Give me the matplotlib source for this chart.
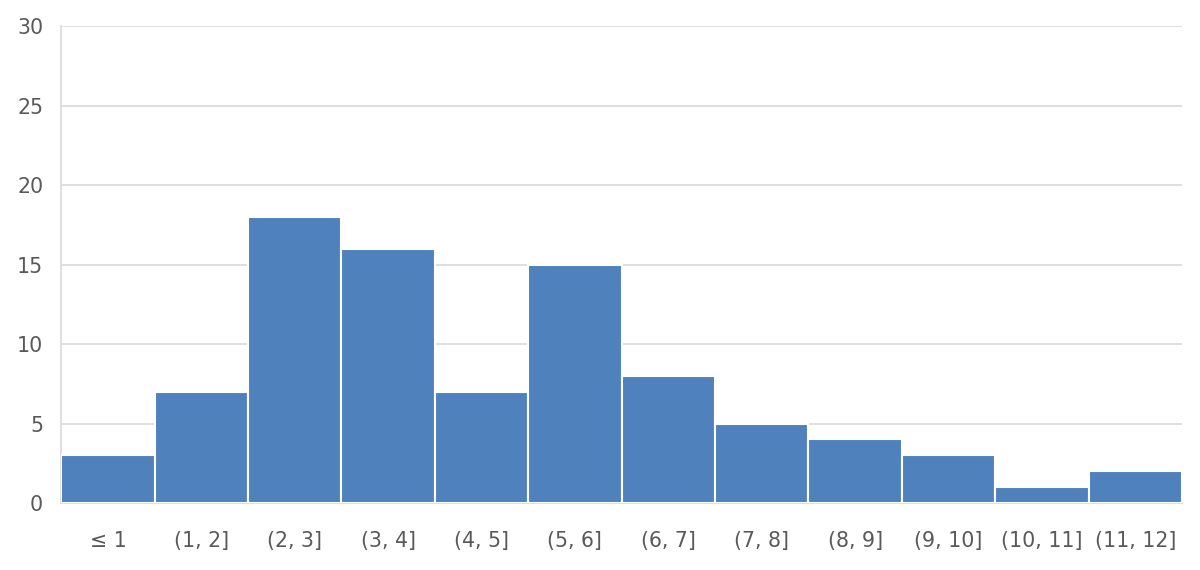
import matplotlib
matplotlib.use("Agg")
import matplotlib.pyplot as plt
import numpy as np

categories = ["≤ 1", "(1, 2]", "(2, 3]", "(3, 4]", "(4, 5]", "(5, 6]",
              "(6, 7]", "(7, 8]", "(8, 9]", "(9, 10]", "(10, 11]", "(11, 12]"]
counts = [3, 7, 18, 16, 7, 15, 8, 5, 4, 3, 1, 2]
yticks = [0, 5, 10, 15, 20, 25, 30]

plt.rcParams['font.family'] = ['DejaVu Sans']
fig = plt.figure(figsize=(12, 5.7), dpi=100)
ax = fig.add_axes([0.051, 0.1175, 0.934, 0.8365])

x = np.arange(len(categories))
ax.bar(x, counts, width=1.0, color="#4F81BD", edgecolor="white", linewidth=1.5, zorder=3)

ax.set_xlim(-0.5, len(categories) - 0.5)
ax.set_ylim(0, 30)
ax.set_yticks(yticks)
ax.set_xticks(x)
ax.set_xticklabels(categories)
ax.grid(axis="y", color="#D9D9D9", linewidth=1.2, zorder=0)
ax.set_axisbelow(True)
for s in ["top", "right"]:
    ax.spines[s].set_visible(False)
for s in ["left", "bottom"]:
    ax.spines[s].set_color("#D9D9D9")
    ax.spines[s].set_linewidth(1.2)
ax.tick_params(axis="both", length=0, colors="#595959", labelsize=14.8)
ax.tick_params(axis="y", pad=13)
ax.tick_params(axis="x", pad=20)

fig.savefig("out.png", dpi=100, facecolor="white")
